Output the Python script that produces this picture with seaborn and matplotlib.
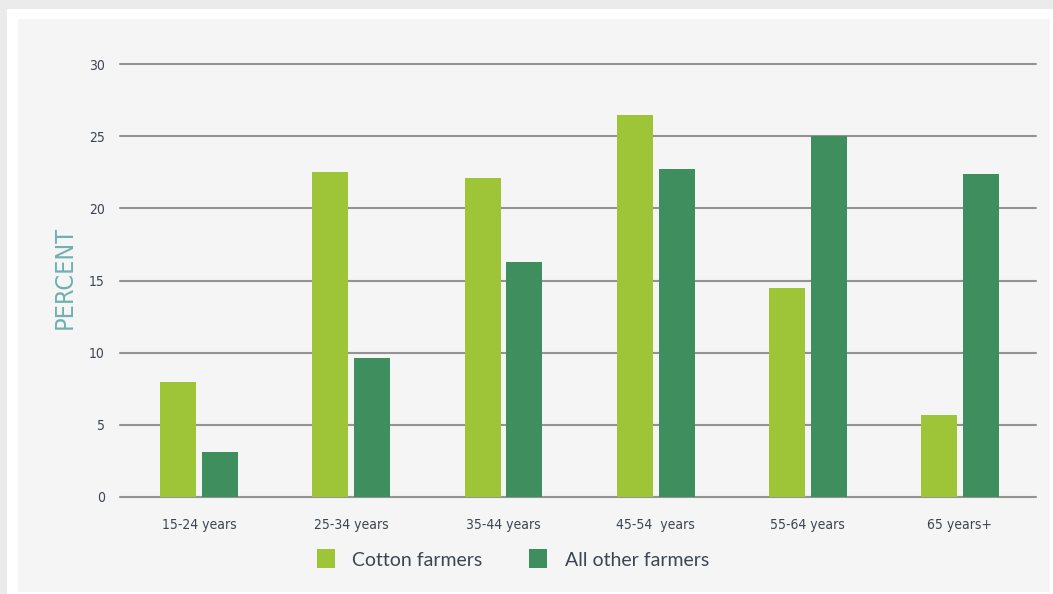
import numpy as np
import matplotlib.pyplot as plt
import matplotlib.patches as mpatches
from matplotlib import font_manager
import pandas as pd
import seaborn as sns

# Chart data
age_groups = ["15-24 years", "25-34 years", "35-44 years", "45-54  years", "55-64 years", "65 years+"]
cotton_farmers = [8.0, 22.5, 22.1, 26.5, 14.5, 5.7]
other_farmers = [3.1, 9.6, 16.3, 22.7, 25.0, 22.4]
series_names = ["Cotton farmers", "All other farmers"]
y_ticks = [0, 5, 10, 15, 20, 25, 30]

colors = ["#9dc537", "#3f8f5e"]
text_color = "#3c4650"

df = pd.DataFrame({
    "age": age_groups * 2,
    "value": cotton_farmers + other_farmers,
    "group": [series_names[0]] * len(age_groups) + [series_names[1]] * len(age_groups),
})

# Pick a narrow font if one is around
installed = {f.name for f in font_manager.fontManager.ttflist}
condensed = [f for f in font_manager.fontManager.ttflist
             if f.name == "DejaVu Sans" and f.stretch == "condensed"]
if "Liberation Sans Narrow" in installed:
    narrow = {"family": "Liberation Sans Narrow"}
elif condensed:
    narrow = {"family": "DejaVu Sans", "stretch": "condensed"}
else:
    narrow = {"family": "DejaVu Sans"}

sns.set_style("white")
plt.rcParams["font.family"] = [narrow["family"], "DejaVu Sans"]
if "stretch" in narrow:
    plt.rcParams["font.stretch"] = "condensed"

fig = plt.figure(figsize=(10.53, 5.94), dpi=100)
fig.patch.set_facecolor("#ebebeb")

# White frame and light panel behind the chart
fig.add_artist(mpatches.Rectangle((7 / 1053, 0), 1 - 7 / 1053, 1 - 9 / 594,
                                  transform=fig.transFigure, facecolor="white",
                                  edgecolor="none", zorder=-3))
fig.add_artist(mpatches.Rectangle((18 / 1053, 2 / 594), (1050 - 18) / 1053, (592 - 19) / 594,
                                  transform=fig.transFigure, facecolor="#f5f5f5",
                                  edgecolor="none", zorder=-2))

ax = fig.add_axes([120 / 1053, 97 / 594, (1036 - 120) / 1053, (497 - 64) / 594])
ax.set_facecolor("none")

sns.barplot(data=df, x="age", y="value", hue="group", palette=colors,
            width=0.55, gap=0.14, saturation=1, legend=False, linewidth=0, ax=ax)

ax.set_ylim(0, 30)
ax.set_xlim(-0.52, 5.5)
ax.set_yticks(y_ticks)
ax.set_yticklabels([str(t) for t in y_ticks])
ax.yaxis.grid(True, color="#939393", linewidth=1.5)
for gl in ax.get_ygridlines():
    gl.set_clip_on(False)
ax.set_axisbelow(True)
for s in ax.spines.values():
    s.set_visible(False)
ax.tick_params(axis="both", length=0, colors=text_color, labelsize=10)
ax.tick_params(axis="y", pad=11)
ax.tick_params(axis="x", pad=15)
ax.set_xlabel(None)
ax.set_ylabel("PERCENT", color="#6fb0b0", fontsize=18)
ax.yaxis.set_label_coords(-0.047, 0.508)

handles = [mpatches.Patch(facecolor=c, edgecolor="none") for c in colors]
fig.legend(handles, series_names, loc="center", bbox_to_anchor=(513 / 1053, 35 / 594),
           ncol=2, frameon=False, prop={"family": "Lato", "size": 14},
           labelcolor=text_color, handlelength=0.93, handleheight=1.13,
           handletextpad=0.9, columnspacing=2.4)

fig.savefig("out.png", dpi=100, facecolor=fig.get_facecolor())
